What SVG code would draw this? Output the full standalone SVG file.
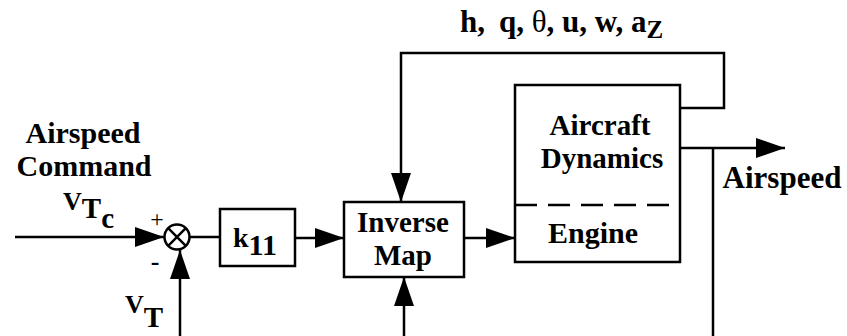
<svg xmlns="http://www.w3.org/2000/svg" width="847" height="336" viewBox="0 0 847 336">
<style>
.ln{fill:none;stroke:#000;stroke-width:2.5}
.bx{fill:#fff;stroke:#000;stroke-width:2.5}
.t{font-family:'Liberation Serif','Times New Roman',serif;font-weight:bold;fill:#000}
.n{font-weight:normal}
</style>
<defs>
<marker id="ah" markerUnits="userSpaceOnUse" markerWidth="30" markerHeight="22" refX="29" refY="10" orient="auto">
<path d="M0,0 L29,10 L0,20 Z" fill="#000"/>
</marker>
</defs>
<g id="connectors">
<path class="ln" d="M15,237 H164" marker-end="url(#ah)"/>
<path class="ln" d="M190,237 H220"/>
<path class="ln" d="M295,238 H344" marker-end="url(#ah)"/>
<path class="ln" d="M464,238 H515" marker-end="url(#ah)"/>
<path class="ln" d="M680,108 H724 V53 H401 V202" marker-end="url(#ah)"/>
<path class="ln" d="M680,148 H785" marker-end="url(#ah)"/>
<path class="ln" d="M713,148 V336"/>
<path class="ln" d="M404,336 V277" marker-end="url(#ah)"/>
<path class="ln" d="M180,336 V250" marker-end="url(#ah)"/>
</g>
<g id="sum">
<circle class="bx" cx="177" cy="237" r="12.5"/>
<path class="ln" d="M168.2,228.2 L185.8,245.8 M185.8,228.2 L168.2,245.8"/>
<text class="t n" x="157" y="227" font-size="24" text-anchor="middle">+</text>
<text class="t" x="155" y="270" font-size="26" text-anchor="middle">-</text>
</g>
<g id="k11">
<rect class="bx" x="220" y="209" width="75" height="57"/>
<text class="t" x="233" y="247" font-size="28">k<tspan y="255" font-size="30">11</tspan></text>
</g>
<g id="inverse-map">
<rect class="bx" x="344" y="202" width="120" height="75"/>
<text class="t" x="403" y="232" font-size="29" text-anchor="middle">Inverse</text>
<text class="t" x="403" y="265" font-size="29" text-anchor="middle">Map</text>
</g>
<g id="aircraft">
<rect class="bx" x="515" y="85" width="165" height="177"/>
<path class="ln" d="M515,205 H680" stroke-dasharray="22,11"/>
<text class="t" x="600" y="135" font-size="29" text-anchor="middle">Aircraft</text>
<text class="t" x="602" y="168" font-size="29" text-anchor="middle">Dynamics</text>
<text class="t" x="593" y="243" font-size="30" text-anchor="middle">Engine</text>
</g>
<g id="labels">
<text class="t" x="83" y="143" font-size="30" text-anchor="middle">Airspeed</text>
<text class="t" x="84" y="176" font-size="30" text-anchor="middle">Command</text>
<text class="t" x="63" y="210" font-size="26">V<tspan y="218" font-size="29">T</tspan><tspan y="228" font-size="29">c</tspan></text>
<text class="t" x="125" y="313" font-size="26">V<tspan y="327" font-size="29">T</tspan></text>
<text class="t" x="782" y="188" font-size="31" text-anchor="middle">Airspeed</text>
<text class="t" x="460" y="32" font-size="31">h,<tspan dx="14">q, </tspan><tspan class="n">θ</tspan>, u, w, a<tspan y="38" font-size="25">Z</tspan></text>
</g>
</svg>
